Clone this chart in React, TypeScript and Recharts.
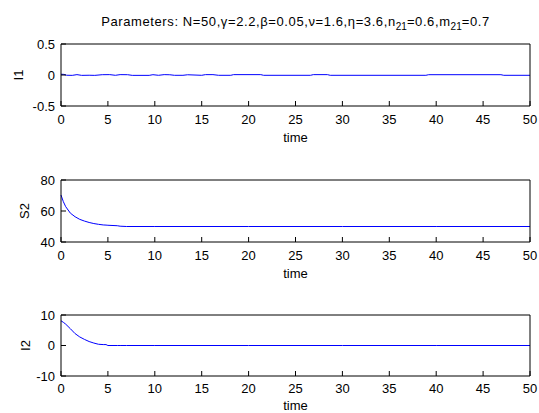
import React from 'react'
import { LineChart, Line, XAxis, YAxis } from 'recharts'

const timeTicks = [0, 5, 10, 15, 20, 25, 30, 35, 40, 45, 50]

// I1: tiny wiggle around zero
const i1Times = [0, 0.3, 0.6, 1.2, 1.7, 2.2, 3, 3.6, 4.4, 5.2, 5.8, 6.3, 7.1, 7.6, 9.4, 9.8, 10.4, 11, 11.6, 12.1, 13, 13.5, 15, 15.4, 16.2, 16.8, 18.1, 18.4, 21.3, 21.6, 26.6, 26.9, 28.4, 28.7, 38.9, 39.2, 46.9, 47.2, 50]
const i1Values = [0.012, 0.01, -0.004, -0.006, 0.006, -0.006, -0.004, -0.006, 0.005, 0.006, -0.005, 0.006, 0.005, -0.006, -0.006, 0.005, -0.005, 0.006, 0.004, -0.005, -0.005, 0.004, -0.005, 0.006, 0.006, -0.005, -0.005, 0.006, 0.006, -0.005, -0.005, 0.006, 0.006, -0.005, -0.005, 0.005, 0.005, -0.005, -0.005]

// S2 and I2 share a time grid
const times = [0, 0.25, 0.5, 1, 1.5, 2, 2.5, 3, 3.5, 4, 4.5, 4.8, 5, 6, 6.3, 7, 10, 20, 30, 40, 50]
const s2Values = [70.3, 66, 62.8, 58.6, 56.3, 54.6, 53.5, 52.6, 51.9, 51.4, 51.0, 50.9, 50.8, 50.5, 50.2, 50.0, 50, 50, 50, 50, 50]
const i2Values = [8.1, 7.6, 7.0, 5.5, 3.9, 2.8, 2.0, 1.3, 0.8, 0.4, 0.3, 0.3, 0, 0, 0, 0, 0, 0, 0, 0, 0]

const i1Data = i1Times.map((t, i) => ({ t, v: i1Values[i] }))
const s2Data = times.map((t, i) => ({ t, v: s2Values[i] }))
const i2Data = times.map((t, i) => ({ t, v: i2Values[i] }))

const FONT = 'Arial, "Liberation Sans", sans-serif'
const tickStyle = { fill: '#000', fontSize: 13, fontFamily: FONT }

function Panel({ data, top, height, domain, ticks, ylabel, ylabelX, timeY, xMargin }: any) {
  return (
    <div style={{ position: 'absolute', left: 0, top: top - 10 }}>
      <LineChart width={539} height={height + 50} data={data} margin={{ top: 9, right: 8, bottom: 0, left: 0 }}>
        <XAxis
          dataKey="t"
          type="number"
          domain={[0, 50]}
          ticks={timeTicks}
          interval={0}
          tickSize={-5}
          tickMargin={xMargin}
          height={40}
          stroke="#000"
          tick={tickStyle}
          label={{
            content: (p: any) => {
              const vb = p.viewBox
              return (
                <text x={vb.x + vb.width / 2} y={vb.y + timeY} textAnchor="middle" dominantBaseline="central" fontSize={13} fontFamily={FONT} fill="#000">
                  time
                </text>
              )
            },
          }}
        />
        <XAxis xAxisId="top" orientation="top" dataKey="t" type="number" domain={[0, 50]} ticks={timeTicks} interval={0} height={1} tickSize={-5} tick={false} stroke="#000" />
        <YAxis
          type="number"
          domain={domain}
          ticks={ticks}
          interval={0}
          width={61}
          tickSize={-5}
          tickMargin={11}
          stroke="#000"
          tick={tickStyle}
          tickFormatter={(v: number) => String(v)}
          label={{
            content: (p: any) => {
              const vb = p.viewBox
              const cy = vb.y + vb.height / 2
              return (
                <text x={ylabelX} y={cy} transform={`rotate(-90 ${ylabelX} ${cy})`} textAnchor="middle" dominantBaseline="central" fontSize={13} fontFamily={FONT} fill="#000">
                  {ylabel}
                </text>
              )
            },
          }}
        />
        <YAxis yAxisId="right" orientation="right" type="number" domain={domain} ticks={ticks} interval={0} width={1} tickSize={-5} tick={false} stroke="#000" />
        <Line dataKey="v" stroke="#0000ff" strokeWidth={1} dot={false} isAnimationActive={false} type="linear" />
      </LineChart>
    </div>
  )
}

const sub = { fontSize: 10, verticalAlign: -4, letterSpacing: 0 }

export default function App() {
  return (
    <div style={{ position: 'absolute', left: 0, top: 0, width: 539, height: 413, background: '#fff', fontFamily: FONT }}>
      <div style={{ position: 'absolute', left: 61, width: 469, top: 14, lineHeight: '16px', fontSize: 13, letterSpacing: 0.6, textAlign: 'center', color: '#000', whiteSpace: 'nowrap' }}>
        Parameters: N=50,γ=2.2,β=0.05,ν=1.6,η=3.6,n<span style={sub}>21</span>=0.6,m<span style={sub}>21</span>=0.7
      </div>
      <Panel data={i1Data} top={44} height={62} domain={[-0.5, 0.5]} ticks={[-0.5, 0, 0.5]} ylabel="I1" ylabelX={18} timeY={31} xMargin={14} />
      <Panel data={s2Data} top={180} height={62} domain={[40, 80]} ticks={[40, 60, 80]} ylabel="S2" ylabelX={24} timeY={31} xMargin={14} />
      <Panel data={i2Data} top={315} height={61} domain={[-10, 10]} ticks={[-10, 0, 10]} ylabel="I2" ylabelX={25} timeY={29} xMargin={13} />
    </div>
  )
}
